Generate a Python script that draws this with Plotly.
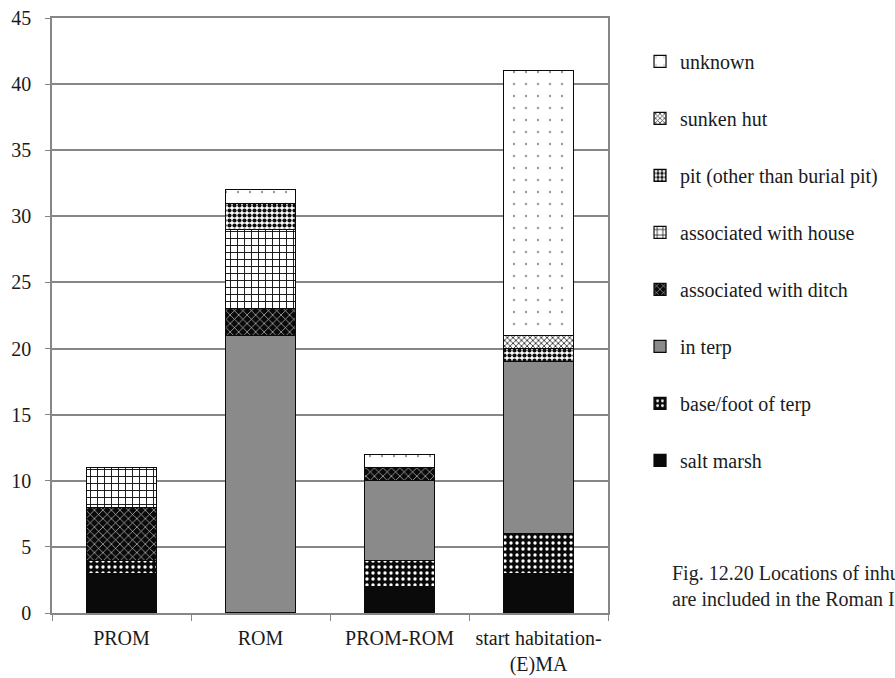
import plotly.graph_objects as go

categories = ["PROM", "ROM", "PROM-ROM", "start habitation-<br>(E)MA"]

# counts of inhumations per location, stacked bottom to top
salt_marsh = [3, 0, 2, 3]
base_foot_of_terp = [1, 0, 2, 3]
in_terp = [0, 21, 6, 13]
assoc_ditch = [4, 2, 1, 0]
assoc_house = [3, 6, 0, 0]
pit = [0, 2, 0, 1]
sunken_hut = [0, 0, 0, 1]
unknown = [0, 1, 1, 20]

series = [
    ("salt marsh", salt_marsh, dict(shape="", bgcolor="#0a0a0a", fgcolor="#0a0a0a")),
    ("base/foot of terp", base_foot_of_terp, dict(shape=".", bgcolor="#0a0a0a", fgcolor="#ffffff", size=6, solidity=0.25)),
    ("in terp", in_terp, dict(shape="", bgcolor="#8a8a8a", fgcolor="#8a8a8a")),
    ("associated with ditch", assoc_ditch, dict(shape="x", bgcolor="#0a0a0a", fgcolor="#d8d8d8", size=6, solidity=0.2)),
    ("associated with house", assoc_house, dict(shape="+", bgcolor="#ffffff", fgcolor="#111111", size=7, solidity=0.25)),
    ("pit (other than burial pit)", pit, dict(shape=".", bgcolor="#ffffff", fgcolor="#111111", size=5, solidity=0.55)),
    ("sunken hut", sunken_hut, dict(shape="x", bgcolor="#ffffff", fgcolor="#333333", size=4, solidity=0.4)),
    ("unknown", unknown, dict(shape=".", bgcolor="#ffffff", fgcolor="#9a9a9a", size=12, solidity=0.03)),
]

fig = go.Figure()
n = len(series)
for i, (name, vals, pat) in enumerate(series):
    fig.add_trace(go.Bar(
        name=name,
        x=categories,
        y=vals,
        legendgroup=name,
        legendrank=100 * (n - i),
        marker=dict(
            color=pat["bgcolor"],
            pattern=dict(fillmode="replace", **pat) if pat["shape"] else None,
            line=dict(color="#0a0a0a", width=1.2),
        ),
        width=0.5,
    ))

font_family = "Liberation Serif"
text_color = "#1a1a1a"

fig.update_layout(
    width=895,
    height=678,
    barmode="stack",
    paper_bgcolor="white",
    plot_bgcolor="white",
    margin=dict(l=52, r=287, t=18, b=65),
    font=dict(family=font_family, size=20, color=text_color),
    legend=dict(
        traceorder="grouped",
        tracegroupgap=28,
        x=1.0576,
        xanchor="left",
        y=0.96,
        yanchor="top",
        font=dict(family=font_family, size=20, color=text_color),
        itemwidth=30,
        bgcolor="rgba(0,0,0,0)",
    ),
)

fig.update_yaxes(
    range=[0, 45],
    dtick=5,
    automargin=False,
    showgrid=True,
    gridcolor="#868686",
    gridwidth=1.5,
    showline=True,
    linecolor="#868686",
    linewidth=1.5,
    mirror=True,
    ticks="outside",
    ticklen=5,
    tickcolor="#868686",
    ticklabelstandoff=10,
    tickfont=dict(family=font_family, size=20, color=text_color),
    zeroline=False,
)
fig.update_xaxes(
    automargin=False,
    showline=True,
    linecolor="#868686",
    linewidth=1.5,
    mirror=True,
    ticks="outside",
    tickson="boundaries",
    ticklen=6,
    tickcolor="#868686",
    ticklabelstandoff=6,
    tickfont=dict(family=font_family, size=20, color=text_color),
)

fig.add_annotation(
    text="Fig. 12.20 Locations of inhumations<br>are included in the Roman Iron Age",
    xref="paper", yref="paper",
    x=1.1115, y=0.0437,
    xanchor="left", yanchor="middle",
    align="left",
    showarrow=False,
    font=dict(family=font_family, size=20, color="#222222"),
)

fig.write_html("out.html")
